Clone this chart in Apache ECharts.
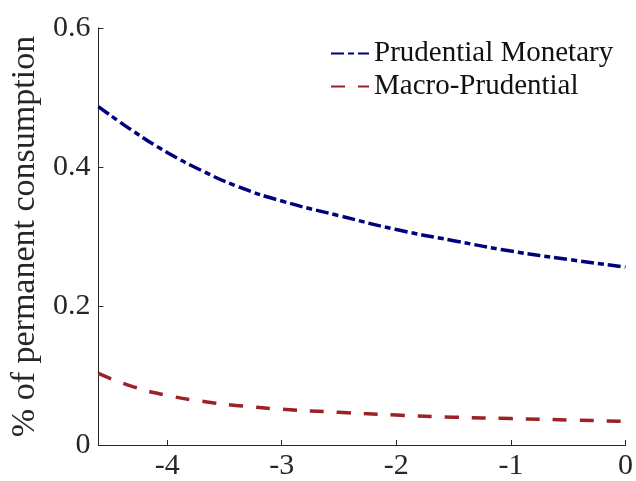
<!DOCTYPE html>
<html>
<head>
<meta charset="utf-8">
<script src="https://cdn.jsdelivr.net/npm/echarts@6/dist/echarts.min.js"></script>
<style>html,body{margin:0;padding:0;background:#fff}#c{width:636px;height:481px}</style>
</head>
<body>
<div id="c"></div>
<script>
const xValues = [-4.6, -4.3, -4.0, -3.7, -3.4, -3.0, -2.5, -2.0, -1.5, -1.0, -0.5, 0.0];
const prudentialMonetary = [0.487, 0.452, 0.421, 0.395, 0.373, 0.351, 0.330, 0.310, 0.294, 0.279, 0.267, 0.256];
const macroPrudential = [0.103, 0.084, 0.0715, 0.063, 0.057, 0.0515, 0.047, 0.043, 0.040, 0.038, 0.036, 0.034];
const xTicks = [-4, -3, -2, -1, 0];
const seriesNames = ['Prudential Monetary', 'Macro-Prudential'];
const yTitle = '% of permanent consumption';

const font = 'Liberation Serif';
const axisColor = '#262626';
const chart = echarts.init(document.getElementById('c'));
chart.setOption({
  animation: false,
  backgroundColor: '#fff',
  grid: { left: 97, right: 8, top: 28, bottom: 34, containLabel: false },
  legend: {
    orient: 'vertical', left: 325, top: 34,
    itemWidth: 38, itemHeight: 14, itemGap: 4,
    itemStyle: { opacity: 0 },
    textStyle: { fontFamily: font, fontSize: 29, color: '#111', lineHeight: 29 },
    data: seriesNames
  },
  xAxis: {
    type: 'value', min: -4.6, max: 0,
    axisLine: { onZero: false, lineStyle: { color: axisColor, width: 1 } },
    axisTick: { inside: true, length: 5, lineStyle: { color: axisColor }, customValues: xTicks },
    axisLabel: { customValues: xTicks, fontFamily: font, fontSize: 30, color: '#262626', margin: 6 },
    splitLine: { show: false }
  },
  yAxis: {
    type: 'value', min: 0, max: 0.6, interval: 0.2,
    name: yTitle, nameLocation: 'middle', nameGap: 56,
    nameTextStyle: { fontFamily: font, fontSize: 34, color: '#262626' },
    axisLine: { show: true, onZero: false, lineStyle: { color: axisColor, width: 1 } },
    axisTick: { show: true, inside: true, length: 5, lineStyle: { color: axisColor } },
    axisLabel: { fontFamily: font, fontSize: 30, color: '#262626', margin: 8 },
    splitLine: { show: false }
  },
  series: [
    {
      name: seriesNames[0], type: 'line', smooth: 0.5, symbol: 'none',
      data: xValues.map((x, i) => [x, prudentialMonetary[i]]),
      lineStyle: { color: '#00007F', width: 3.5, type: [13, 4, 6, 4] },
      itemStyle: { color: '#00007F' }
    },
    {
      name: seriesNames[1], type: 'line', smooth: 0.5, symbol: 'none',
      data: xValues.map((x, i) => [x, macroPrudential[i]]),
      lineStyle: { color: '#9B2226', width: 3.5, type: [14, 13] },
      itemStyle: { color: '#9B2226' }
    }
  ]
});
</script>
</body>
</html>
